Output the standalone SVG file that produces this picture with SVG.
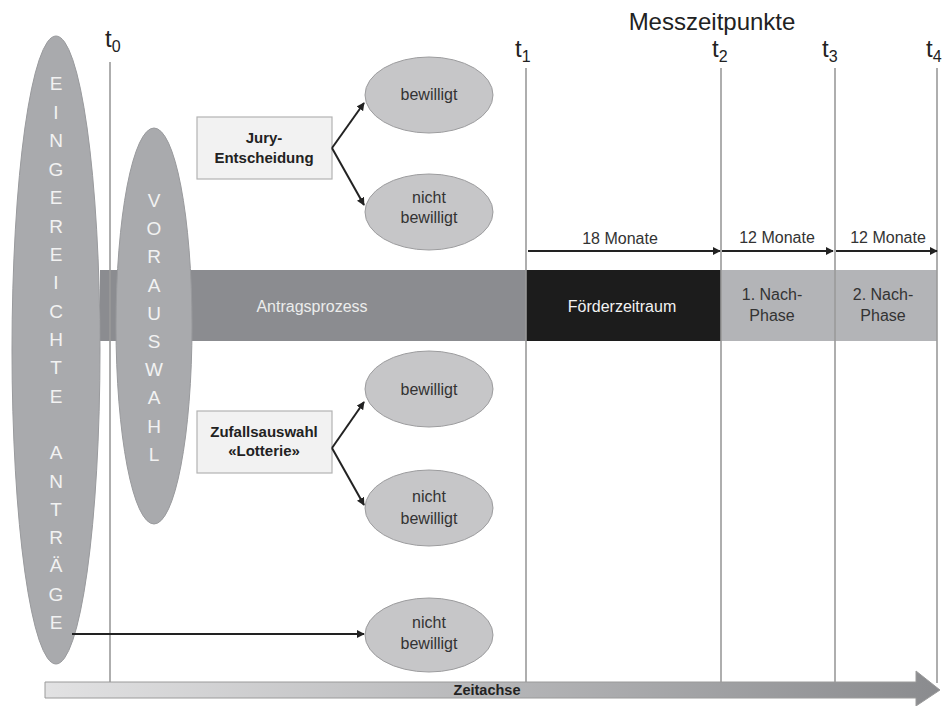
<svg xmlns="http://www.w3.org/2000/svg" width="942" height="706" viewBox="0 0 942 706">
<defs>
<style>
text{font-family:"Liberation Sans",Arial,sans-serif}
.vl{stroke:#9a9a9a;stroke-width:1.6}
.big{fill:#a9aaad;stroke:#999a9d;stroke-width:1}
.let{font-size:19px;fill:#f2f2f2;text-anchor:middle}
.box{fill:#f2f2f2;stroke:#b3b3b3;stroke-width:1.2}
.bt{font-size:15px;font-weight:bold;fill:#222;text-anchor:middle}
.oval{fill:#c6c6c8;stroke:#9c9c9e;stroke-width:1}
.ot{font-size:16px;fill:#333;text-anchor:middle}
.con{stroke:#222;stroke-width:2;fill:none;marker-end:url(#ah)}
.tl{font-size:24px;fill:#222}
.ts{font-size:16px;fill:#222}
.mt{font-size:16px;fill:#333;text-anchor:middle}
</style>
<marker id="ah" viewBox="0 0 10 10" refX="9" refY="5" markerWidth="4" markerHeight="4" orient="auto" markerUnits="strokeWidth">
<path d="M0,0 L10,5 L0,10 z" fill="#222"/>
</marker>
<linearGradient id="zg" x1="0" y1="0" x2="1" y2="0">
<stop offset="0" stop-color="#e2e2e3"/>
<stop offset="1" stop-color="#8a8b8e"/>
</linearGradient>
</defs>

<g id="header">
<text x="712" y="30" font-size="24" fill="#222" text-anchor="middle">Messzeitpunkte</text>
<text x="105" y="47" class="tl">t<tspan class="ts" dy="5">0</tspan></text>
<text x="515" y="57" class="tl">t<tspan class="ts" dy="5">1</tspan></text>
<text x="712" y="57" class="tl">t<tspan class="ts" dy="5">2</tspan></text>
<text x="822" y="57" class="tl">t<tspan class="ts" dy="5">3</tspan></text>
<text x="926" y="57" class="tl">t<tspan class="ts" dy="5">4</tspan></text>
</g>

<g id="bar-antrag">
<rect x="100" y="270" width="426" height="71" fill="#8b8c90"/>
<text x="312" y="312" font-size="16" fill="#ececec" text-anchor="middle">Antragsprozess</text>
</g>
<g id="bar-foerder">
<rect x="526" y="270" width="195" height="71" fill="#1c1c1c"/>
<text x="622" y="312" font-size="16" fill="#f2f2f2" text-anchor="middle">Förderzeitraum</text>
</g>
<g id="bar-nach1">
<rect x="721" y="270" width="114" height="71" fill="#b3b4b7"/>
<text x="772" y="300" class="ot">1. Nach-</text>
<text x="772" y="321" class="ot">Phase</text>
</g>
<g id="bar-nach2">
<rect x="835" y="270" width="102" height="71" fill="#b3b4b7"/>
<text x="883" y="300" class="ot">2. Nach-</text>
<text x="883" y="321" class="ot">Phase</text>
</g>

<g id="timelines">
<line class="vl" x1="110" y1="62" x2="110" y2="683"/>
<line class="vl" x1="526" y1="68" x2="526" y2="683"/>
<line class="vl" x1="721" y1="68" x2="721" y2="683"/>
<line class="vl" x1="835" y1="68" x2="835" y2="683"/>
<line class="vl" x1="937" y1="68" x2="937" y2="683"/>
</g>

<g id="zeitachse">
<path d="M45,682 L916,682 L916,671 L940,690 L916,706 L916,698 L45,698 Z" fill="url(#zg)" stroke="#9a9a9a" stroke-width="1"/>
<text x="487" y="695" font-size="14.5" font-weight="bold" fill="#222" text-anchor="middle">Zeitachse</text>
</g>

<g id="eingereichte">
<ellipse class="big" cx="56" cy="350" rx="44" ry="314"/>
<text class="let" x="56" y="90">E</text>
<text class="let" x="56" y="118.5">I</text>
<text class="let" x="56" y="147">N</text>
<text class="let" x="56" y="175.5">G</text>
<text class="let" x="56" y="204">E</text>
<text class="let" x="56" y="232.5">R</text>
<text class="let" x="56" y="260.5">E</text>
<text class="let" x="56" y="289">I</text>
<text class="let" x="56" y="317.5">C</text>
<text class="let" x="56" y="345.5">H</text>
<text class="let" x="56" y="374">T</text>
<text class="let" x="56" y="402.5">E</text>
<text class="let" x="56" y="459">A</text>
<text class="let" x="56" y="487.5">N</text>
<text class="let" x="56" y="515.5">T</text>
<text class="let" x="56" y="543.5">R</text>
<text class="let" x="56" y="572">Ä</text>
<text class="let" x="56" y="600.5">G</text>
<text class="let" x="56" y="628.5">E</text>
</g>

<g id="vorauswahl">
<ellipse class="big" cx="154" cy="326" rx="38" ry="198"/>
<text class="let" x="154" y="207">V</text>
<text class="let" x="154" y="235">O</text>
<text class="let" x="154" y="263">R</text>
<text class="let" x="154" y="292">A</text>
<text class="let" x="154" y="320">U</text>
<text class="let" x="154" y="348">S</text>
<text class="let" x="154" y="376">W</text>
<text class="let" x="154" y="404">A</text>
<text class="let" x="154" y="433">H</text>
<text class="let" x="154" y="461">L</text>
</g>

<g id="jury">
<rect class="box" x="197" y="117" width="135" height="62"/>
<text class="bt" x="264" y="143">Jury-</text>
<text class="bt" x="264" y="163">Entscheidung</text>
</g>
<g id="jury-bewilligt">
<ellipse class="oval" cx="429" cy="95" rx="64" ry="38"/>
<text class="ot" x="429" y="100">bewilligt</text>
</g>
<g id="jury-nicht">
<ellipse class="oval" cx="429" cy="212" rx="64" ry="38"/>
<text class="ot" x="429" y="203">nicht</text>
<text class="ot" x="429" y="223">bewilligt</text>
</g>

<g id="lotterie">
<rect class="box" x="197" y="411" width="135" height="62"/>
<text class="bt" x="264" y="437">Zufallsauswahl</text>
<text class="bt" x="264" y="456">«Lotterie»</text>
</g>
<g id="lotterie-bewilligt">
<ellipse class="oval" cx="429" cy="389" rx="64" ry="38"/>
<text class="ot" x="429" y="395">bewilligt</text>
</g>
<g id="lotterie-nicht">
<ellipse class="oval" cx="429" cy="508" rx="64" ry="38"/>
<text class="ot" x="429" y="502">nicht</text>
<text class="ot" x="429" y="524">bewilligt</text>
</g>

<g id="vor-nicht">
<ellipse class="oval" cx="429" cy="635" rx="64" ry="37"/>
<text class="ot" x="429" y="628">nicht</text>
<text class="ot" x="429" y="649">bewilligt</text>
</g>

<g id="connectors">
<path class="con" d="M332,148 L364,103"/>
<path class="con" d="M332,148 L364,205"/>
<path class="con" d="M332,448 L364,402"/>
<path class="con" d="M332,448 L364,505"/>
<path class="con" d="M72,634 L364,634"/>
<path class="con" d="M528,251 L720,251"/>
<path class="con" d="M722,251 L833,251"/>
<path class="con" d="M836,251 L937,251"/>
<text class="mt" x="620" y="244">18 Monate</text>
<text class="mt" x="777" y="243">12 Monate</text>
<text class="mt" x="888" y="243">12 Monate</text>
</g>
</svg>
